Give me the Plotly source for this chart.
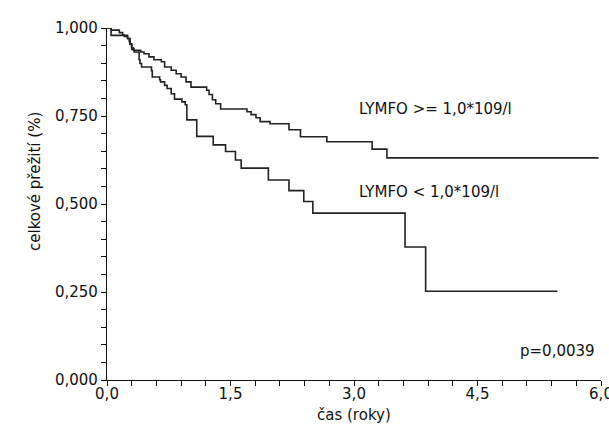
import plotly.graph_objects as go

# LYMFO >= 1,0*109/l  (time in years, survival proportion after each step)
high_time = [0.0, 0.05, 0.15, 0.19, 0.21, 0.25, 0.27, 0.28, 0.30, 0.32, 0.41, 0.45, 0.51, 0.57,
             0.66, 0.70, 0.78, 0.84, 0.90, 0.96, 1.02, 1.21, 1.24, 1.28, 1.32, 1.38, 1.70, 1.75,
             1.81, 1.86, 1.98, 2.21, 2.35, 2.67, 3.22, 3.40, 5.97]
high_surv = [1.000, 0.994, 0.987, 0.980, 0.976, 0.970, 0.962, 0.953, 0.944, 0.937, 0.932, 0.927,
             0.918, 0.910, 0.904, 0.889, 0.880, 0.870, 0.861, 0.847, 0.832, 0.823, 0.811, 0.796,
             0.785, 0.770, 0.762, 0.754, 0.745, 0.734, 0.728, 0.711, 0.691, 0.677, 0.656, 0.631,
             0.631]

# LYMFO < 1,0*109/l
low_time = [0.0, 0.05, 0.25, 0.28, 0.30, 0.33, 0.39, 0.40, 0.42, 0.54, 0.55, 0.64, 0.65, 0.70,
            0.73, 0.78, 0.82, 0.91, 0.95, 0.97, 1.09, 1.29, 1.44, 1.56, 1.63, 1.96, 2.21, 2.39,
            2.50, 3.62, 3.87, 5.47]
low_surv = [1.000, 0.979, 0.970, 0.955, 0.940, 0.932, 0.910, 0.899, 0.889, 0.879, 0.861, 0.853,
            0.847, 0.837, 0.828, 0.813, 0.798, 0.790, 0.782, 0.739, 0.692, 0.668, 0.649, 0.625,
            0.602, 0.568, 0.538, 0.507, 0.474, 0.378, 0.252, 0.252]

x_ticks = [0.0, 1.5, 3.0, 4.5, 6.0]
y_ticks = [0.0, 0.25, 0.5, 0.75, 1.0]

label_high = "LYMFO >= 1,0*109/l"
label_low = "LYMFO < 1,0*109/l"
p_text = "p=0,0039"
x_title = "čas (roky)"
y_title = "celkové přežití (%)"

FONT = "DejaVu Sans, sans-serif"
LINE = "#222222"
AX = "#111111"

W, H = 609, 434
ML, MR, MT, MB = 107, 8, 28, 54
pw, ph = W - ML - MR, H - MT - MB

fig = go.Figure()
fig.add_trace(go.Scatter(x=high_time, y=high_surv, mode="lines",
                         line=dict(shape="hv", color=LINE, width=1.6),
                         name=label_high, showlegend=False))
fig.add_trace(go.Scatter(x=low_time, y=low_surv, mode="lines",
                         line=dict(shape="hv", color=LINE, width=1.6),
                         name=label_low, showlegend=False))

axis_common = dict(showgrid=False, zeroline=False, showline=True, linecolor=AX, linewidth=1.3,
                   ticks="outside", ticklen=5, tickcolor=AX, tickwidth=1.3, automargin=False)

fig.update_layout(
    width=W, height=H,
    margin=dict(l=ML, r=MR, t=MT, b=MB, autoexpand=False),
    paper_bgcolor="white", plot_bgcolor="white",
    separators=",.",
    font=dict(family=FONT, size=15, color="#111111"),
    xaxis=dict(range=[0, 6], tickvals=x_ticks, tickformat=".1f", ticklabelstandoff=-5,
               ticklabeloverflow="allow",
               minor=dict(dtick=0.3, tick0=0, ticks="outside", ticklen=5, tickcolor=AX, tickwidth=1.3),
               **axis_common),
    yaxis=dict(range=[0, 1], tickvals=y_ticks, tickformat=".3f",
               minor=dict(dtick=0.05, tick0=0, ticks="outside", ticklen=5, tickcolor=AX, tickwidth=1.3),
               **axis_common),
)

fig.add_annotation(x=3.04, y=0.771, xref="x", yref="y", text=label_high, showarrow=False,
                   xanchor="left", yanchor="middle")
fig.add_annotation(x=3.04, y=0.535, xref="x", yref="y", text=label_low, showarrow=False,
                   xanchor="left", yanchor="middle")
fig.add_annotation(x=5.95, y=0.081, xref="x", yref="y", text=p_text, showarrow=False,
                   xanchor="right", yanchor="middle")
fig.add_annotation(x=(354 - ML) / pw, y=(H - MB - 415) / ph, xref="paper", yref="paper",
                   text=x_title, showarrow=False, xanchor="center", yanchor="middle")
fig.add_annotation(x=(35 - ML) / pw, y=(H - MB - 182) / ph, xref="paper", yref="paper",
                   text=y_title, showarrow=False, textangle=-90, xanchor="center", yanchor="middle")

fig.write_html("out.html", config={"displayModeBar": False},
               post_script="document.body.style.margin='0';document.body.style.padding='0';"
                           "document.body.style.overflow='hidden';")
